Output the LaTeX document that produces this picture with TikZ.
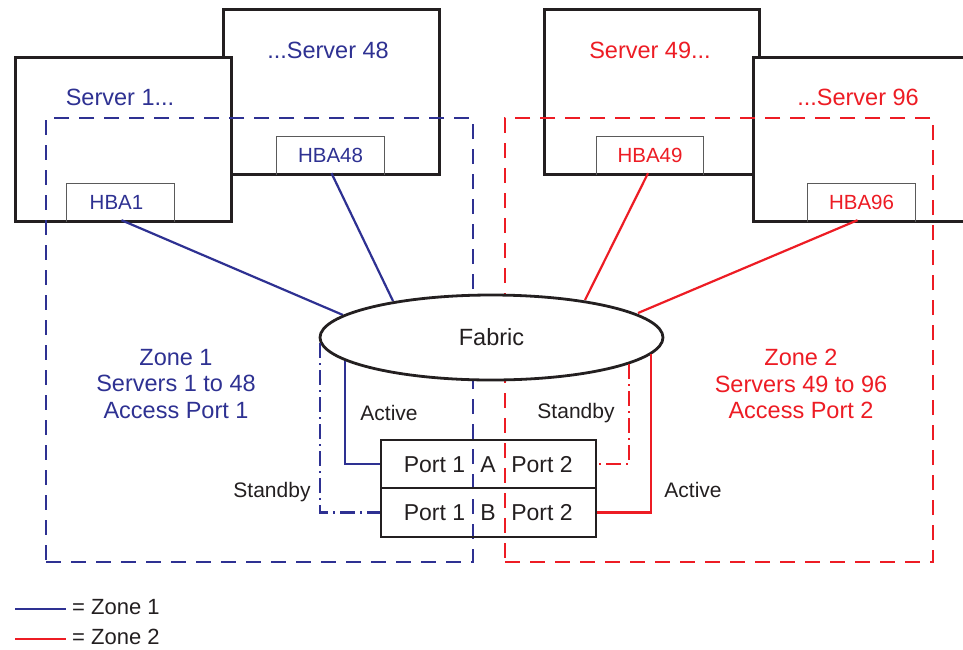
\documentclass[tikz,border=0pt]{standalone}
\usepackage{fontspec}
\setmainfont{Liberation Sans}
\usetikzlibrary{shapes.geometric}
\definecolor{zblue}{RGB}{46,49,146}
\definecolor{zred}{RGB}{237,28,36}
\definecolor{ink}{RGB}{35,31,32}
\definecolor{hbagray}{RGB}{90,90,90}
\begin{document}
\begin{tikzpicture}[x=1pt,y=-1pt,
  server/.style={draw=ink, line width=2.8pt, fill=white, inner sep=0pt, anchor=north west},
  hba/.style={inner sep=0pt, minimum width=107pt, minimum height=36pt, font=\fontsize{20.5}{24}\selectfont},
  hbaline/.style={draw=hbagray, line width=1.2pt},
  zonebox/.style={draw, line width=2.1pt, dash pattern=on 15pt off 10pt, inner sep=0pt, anchor=north west},
  link/.style={line width=2.2pt},
  standbyline/.style={line width=2.2pt, dash pattern=on 15pt off 5pt on 2pt off 5pt},
  big/.style={inner sep=0pt, font=\fontsize{23.5}{26.5}\selectfont},
  mid/.style={inner sep=0pt, text=ink, font=\fontsize{21}{24}\selectfont},
  portt/.style={inner sep=0pt, text=ink, font=\fontsize{23}{26}\selectfont},
  portbox/.style={draw=ink, line width=2.8pt, inner sep=0pt, minimum width=215pt}
]
\useasboundingbox (0,0) rectangle (963,649);

% servers
\node[server, minimum width=216pt, minimum height=165pt] (srv48) at (222,8) {};
\node[server, minimum width=216pt, minimum height=164pt] (srv1) at (14,56) {};
\node[server, minimum width=215pt, minimum height=165pt] (srv49) at (543,8) {};
\node[server, minimum width=230pt, minimum height=164pt] (srv96) at (752,56) {};

\node[big, text=zblue] (s1l) at (120,97) {Server 1...};
\node[big, text=zblue] (s48l) at (328,50) {...Server 48};
\node[big, text=zred] (s49l) at (650,50) {Server 49...};
\node[big, text=zred] (s96l) at (858,97) {...Server 96};

% HBAs
\node[hba, text=zblue] (hba1) at (120.5,202) {\hspace*{-8pt}HBA1};
\node[hba, text=zblue] (hba48) at (330.5,155) {HBA48};
\node[hba, text=zred] (hba49) at (650,155) {HBA49};
\node[hba, text=zred] (hba96) at (861.5,202) {HBA96};
\foreach \h in {hba1,hba48,hba49,hba96}
  \draw[hbaline] ([yshift=-2pt]\h.south west) |- (\h.north) -| ([yshift=-2pt]\h.south east);

% zones
\node[zonebox, draw=zblue, minimum width=427pt, minimum height=444pt] (zone1) at (45,117) {};
\node[zonebox, draw=zred, minimum width=428pt, minimum height=444pt] (zone2) at (504,117) {};

% fabric
\coordinate (fabc) at (491.5,337.5);
\draw[link, zblue] ([xshift=1pt]hba1.south) -- (343,315) coordinate (e1);
\draw[link, zblue] ([xshift=1pt]hba48.south) -- (393,301) coordinate (e48);
\draw[link, zred] ([xshift=-2pt]hba49.south) -- (585,300) coordinate (e49);
\draw[link, zred] ([xshift=-4pt]hba96.south) -- (638,313) coordinate (e96);
\node[ellipse, draw=ink, line width=2.8pt, fill=white, minimum width=343pt, minimum height=85pt, inner sep=0pt, text=ink, font=\fontsize{23.5}{26}\selectfont] (fab) at (fabc) {Fabric};

% port boxes
\node[portbox, minimum height=48pt] (pa) at (488.5,464) {};
\node[portbox, minimum height=49pt] (pb) at (488.5,512.5) {};
\node[portt] (pa1) at (434.5,465) {Port 1};
\node[portt] (paA) at (488,465) {A};
\node[portt] (pa2) at (542,465) {Port 2};
\node[portt] (pb1) at (434.5,513) {Port 1};
\node[portt] (pbB) at (488,513) {B};
\node[portt] (pb2) at (542,513) {Port 2};

% port connectors
\draw[link, zblue] (fab.189.4) |- (pa.west);
\draw[standbyline, zblue] (fab.182.7) |- (pb.west);
\draw[standbyline, zred] (fab.349.5) |- (pa.east);
\draw[link, zred] (fab.354.7) |- (pb.east);

\node[mid] (act1) at (389,413) {Active};
\node[mid] (stb2) at (576,413) {Standby};
\node[mid] (stb1) at (272,492) {Standby};
\node[mid] (act2) at (693,490) {Active};

% zone labels
\node[big, text=zblue, align=center] (z1t) at (176,384) {Zone 1\\Servers 1 to 48\\Access Port 1};
\node[big, text=zred, align=center] (z2t) at (801,384) {Zone 2\\Servers 49 to 96\\Access Port 2};

% legend
\coordinate (l1a) at (15,609);
\coordinate (l1b) at (66,609);
\coordinate (l2a) at (15,639);
\coordinate (l2b) at (66,639);
\draw[link, zblue] (l1a) -- (l1b);
\draw[link, zred] (l2a) -- (l2b);
\node[mid, anchor=west, font=\fontsize{22}{24}\selectfont] (l1t) at (72,607) {= Zone 1};
\node[mid, anchor=west, font=\fontsize{22}{24}\selectfont] (l2t) at (72,637) {= Zone 2};
\end{tikzpicture}
\end{document}
